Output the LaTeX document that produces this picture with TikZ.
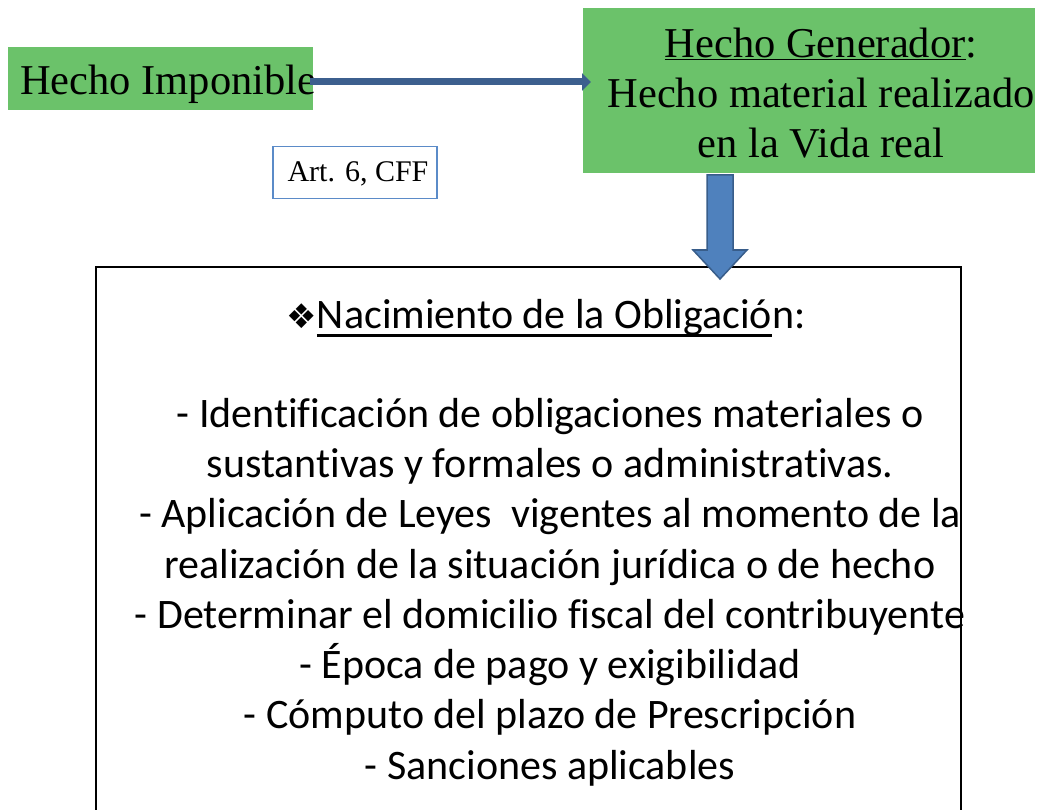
\documentclass[tikz,border=0pt]{standalone}
\usepackage{fontspec}
\setmainfont{Liberation Serif}
\newfontfamily\calibfont[Ligatures=NoCommon]{Carlito}
\newfontfamily\symbfont{DejaVu Sans}
\usetikzlibrary{arrows.meta}
\newcommand{\thickul}[1]{\setbox0=\hbox{#1}\rlap{\rule[-9pt]{\wd0}{2.6pt}}\box0}

\definecolor{boxgreen}{RGB}{107,194,106}
\definecolor{arrowdark}{RGB}{60,95,142}
\definecolor{arrowfill}{RGB}{79,129,189}
\definecolor{arrowline}{RGB}{56,93,138}
\definecolor{artblue}{RGB}{91,139,200}

\tikzset{
  greenbox/.style={fill=boxgreen, draw=none, inner sep=0pt},
  serifbig/.style={font=\fontsize{42.5}{50}\selectfont, inner sep=0pt},
  calibbig/.style={font=\calibfont\fontsize{42}{50.3}\selectfont, inner sep=0pt},
  harrow/.style={draw=arrowdark, line width=7pt, -{Triangle[length=9pt,width=17pt]}},
  downarrow/.style={fill=arrowfill, draw=arrowline, line width=1.5pt, line join=miter},
  artbox/.style={draw=artblue, line width=1.5pt, fill=white, inner sep=0pt},
  oblbox/.style={draw=black, line width=1.8pt, inner sep=0pt}
}

\begin{document}
\begin{tikzpicture}[x=1pt,y=-1pt]
\useasboundingbox (0,0) rectangle (1043,810);

% Hecho Imponible
\node[greenbox, minimum width=305pt, minimum height=63pt, anchor=north west] (imp) at (8,47) {};
\node[serifbig, anchor=west] (imptext) at (20,84) {Hecho Imponible};

% Hecho Generador
\node[greenbox, minimum width=452pt, minimum height=165pt, anchor=north west] (gen) at (583,8) {};
\node[serifbig, align=center] (gentext) at (821,93) {\underline{Hecho Generador}:\\Hecho material realizado\\en la Vida real};

% horizontal arrow
\coordinate (hstart) at (310,82);
\coordinate (hend) at (591,82);
\draw[harrow] (hstart) -- (hend);

% Art. 6, CFF
\node[artbox, minimum width=164pt, minimum height=52pt, anchor=north west] (art) at (272,146) {};
\node[font=\fontsize{30}{34}\selectfont, inner sep=0pt] (arttext) at (358,174) {Art. 6, CFF};

% big box
\node[oblbox, minimum width=865pt, minimum height=570pt, anchor=north west] (obl) at (95,266) {};

% down arrow
\coordinate (dtop) at (720,175);
\coordinate (dtip) at (720,279);
\draw[downarrow] ([xshift=-13]dtop) -- ([xshift=13]dtop) -- ([xshift=13]dtip |- 0,250) -- ([xshift=27]dtip |- 0,250) -- (dtip) -- ([xshift=-27]dtip |- 0,250) -- ([xshift=-13]dtip |- 0,250) -- cycle;

% heading
\node[calibbig] (head) at (546,318) {{\symbfont\fontsize{34}{34}\selectfont ❖}\thickul{Nacimiento de la Obligació}n:};

% body
\node[calibbig, align=center] (body) at (550,592) {- Identificación de obligaciones materiales o\\
sustantivas y formales o administrativas.\\
- Aplicación de Leyes~ vigentes al momento de la\\
realización de la situación jurídica o de hecho\\
- Determinar el domicilio fiscal del contribuyente\\
- Época de pago y exigibilidad\\
- Cómputo del plazo de Prescripción\\
- Sanciones aplicables};

\end{tikzpicture}
\end{document}
